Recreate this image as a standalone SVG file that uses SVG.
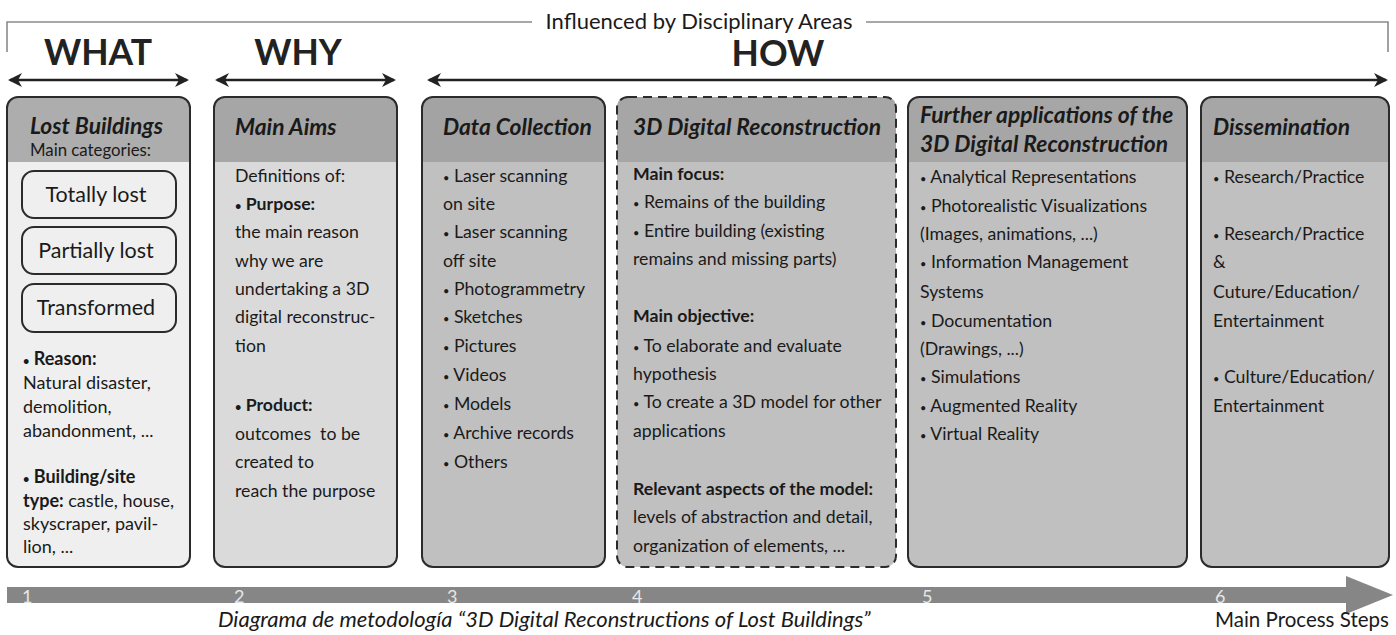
<svg xmlns="http://www.w3.org/2000/svg" width="1396" height="635" viewBox="0 0 1396 635">
<defs>
<style>
text{font-family:Lato,"Open Sans","Liberation Sans",sans-serif;fill:#1a1a1a}
.big{font-size:35.5px;font-weight:bold;fill:#222}
.hd{font-size:22.8px;font-weight:bold;font-style:italic}
.bd{font-size:17.7px}
.sm{font-size:18px}
.b{font-weight:bold}
.bl{font-size:11px}
.frame{fill:none;stroke:#2b2b2b;stroke-width:2}
.dash{fill:none;stroke:#2b2b2b;stroke-width:2;stroke-dasharray:9 6}
.hdr{fill:#a6a6a6}
.arr{stroke:#222;stroke-width:2.5;fill:none}
.num{font-size:18px;fill:#e6e6e6}
.cat{font-size:21.5px}
</style>
<marker id="ah" viewBox="0 0 14 14" refX="12" refY="7" markerWidth="14" markerHeight="14" markerUnits="userSpaceOnUse" orient="auto-start-reverse">
<path d="M0,0 L14,7 L0,14 L4,7 Z" fill="#222"/>
</marker>
</defs>
<rect width="1396" height="635" fill="#fff"/>

<g id="bracket">
<path d="M7,52 V22 H532 M866,22 H1388 V52" fill="none" stroke="#8a8a8a" stroke-width="1.6"/>
<text x="699" y="29" text-anchor="middle" style="font-size:22px">Influenced by Disciplinary Areas</text>
</g>

<g id="titles">
<text class="big" x="98" y="65" text-anchor="middle">WHAT</text>
<text class="big" x="298" y="65" text-anchor="middle">WHY</text>
<text class="big" x="778" y="66" text-anchor="middle">HOW</text>
</g>

<g id="connectors">
<line class="arr" x1="10" y1="80" x2="187" y2="80" marker-start="url(#ah)" marker-end="url(#ah)"/>
<line class="arr" x1="217" y1="80" x2="394" y2="80" marker-start="url(#ah)" marker-end="url(#ah)"/>
<line class="arr" x1="429" y1="80" x2="1386" y2="80" marker-start="url(#ah)" marker-end="url(#ah)"/>
</g>

<g id="box1">
<rect x="7" y="97" width="183" height="470" rx="11" fill="#efefef"/>
<path d="M7,162 V108 Q7,97 18,97 H179 Q190,97 190,108 V162 Z" fill="#adadad"/>
<rect class="frame" x="7" y="97" width="183" height="470" rx="11"/>
<text class="hd" x="30" y="134">Lost Buildings</text>
<text x="30" y="156" style="font-size:16.8px">Main categories:</text>
<rect class="frame" x="22" y="171" width="154" height="47" rx="12" fill="#f2f2f2"/>
<text class="cat" x="96" y="202" text-anchor="middle">Totally lost</text>
<rect class="frame" x="22" y="227" width="154" height="47" rx="12" fill="#f2f2f2"/>
<text class="cat" x="96" y="258" text-anchor="middle">Partially lost</text>
<rect class="frame" x="22" y="284" width="154" height="48" rx="12" fill="#f2f2f2"/>
<text class="cat" x="96" y="315" text-anchor="middle">Transformed</text>
<text class="sm b" x="23" y="365"><tspan class="bl">•</tspan> Reason:</text>
<text class="sm" x="23" y="389">Natural disaster,</text>
<text class="sm" x="23" y="413">demolition,</text>
<text class="sm" x="23" y="437">abandonment, ...</text>
<text class="sm b" x="23" y="483"><tspan class="bl">•</tspan> Building/site</text>
<text class="sm" x="23" y="507"><tspan class="b">type:</tspan> castle, house,</text>
<text class="sm" x="23" y="530">skyscraper, pavil-</text>
<text class="sm" x="23" y="553">lion, ...</text>
</g>

<g id="box2">
<rect x="214" y="97" width="183" height="470" rx="11" fill="#dadada"/>
<path class="hdr" d="M214,162 V108 Q214,97 225,97 H386 Q397,97 397,108 V162 Z"/>
<rect class="frame" x="214" y="97" width="183" height="470" rx="11"/>
<text class="hd" x="235" y="135">Main Aims</text>
<text class="bd" x="235" y="182">Definitions of:</text>
<text class="bd b" x="235" y="210"><tspan class="bl">•</tspan> Purpose:</text>
<text class="bd" x="235" y="238">the main reason</text>
<text class="bd" x="235" y="267">why we are</text>
<text class="bd" x="235" y="295">undertaking a 3D</text>
<text class="bd" x="235" y="323">digital reconstruc-</text>
<text class="bd" x="235" y="352">tion</text>
<text class="bd b" x="235" y="411"><tspan class="bl">•</tspan> Product:</text>
<text class="bd" x="235" y="440" xml:space="preserve">outcomes  to be</text>
<text class="bd" x="235" y="468">created to</text>
<text class="bd" x="235" y="497">reach the purpose</text>
</g>

<g id="box3">
<rect x="422" y="97" width="183" height="470" rx="11" fill="#c0c0c0"/>
<path d="M422,162 V108 Q422,97 433,97 H594 Q605,97 605,108 V162 Z" fill="#a3a3a3"/>
<rect class="frame" x="422" y="97" width="183" height="470" rx="11"/>
<text class="hd" x="443" y="135">Data Collection</text>
<text class="bd" x="443" y="182"><tspan class="bl">•</tspan> Laser scanning</text>
<text class="bd" x="443" y="210">on site</text>
<text class="bd" x="443" y="238"><tspan class="bl">•</tspan> Laser scanning</text>
<text class="bd" x="443" y="267">off site</text>
<text class="bd" x="443" y="295"><tspan class="bl">•</tspan> Photogrammetry</text>
<text class="bd" x="443" y="323"><tspan class="bl">•</tspan> Sketches</text>
<text class="bd" x="443" y="352"><tspan class="bl">•</tspan> Pictures</text>
<text class="bd" x="443" y="381"><tspan class="bl">•</tspan> Videos</text>
<text class="bd" x="443" y="410"><tspan class="bl">•</tspan> Models</text>
<text class="bd" x="443" y="439"><tspan class="bl">•</tspan> Archive records</text>
<text class="bd" x="443" y="468"><tspan class="bl">•</tspan> Others</text>
</g>

<g id="box4">
<rect x="617" y="97" width="279" height="470" rx="11" fill="#c0c0c0"/>
<path class="hdr" d="M617,162 V108 Q617,97 628,97 H885 Q896,97 896,108 V162 Z"/>
<rect class="dash" x="617" y="97" width="279" height="470" rx="11"/>
<text class="hd" x="633" y="135">3D Digital Reconstruction</text>
<text class="bd b" x="633" y="180">Main focus:</text>
<text class="bd" x="633" y="208"><tspan class="bl">•</tspan> Remains of the building</text>
<text class="bd" x="633" y="237"><tspan class="bl">•</tspan> Entire building (existing</text>
<text class="bd" x="633" y="265">remains and missing parts)</text>
<text class="bd b" x="633" y="322">Main objective:</text>
<text class="bd" x="633" y="352"><tspan class="bl">•</tspan> To elaborate and evaluate</text>
<text class="bd" x="633" y="380">hypothesis</text>
<text class="bd" x="633" y="408"><tspan class="bl">•</tspan> To create a 3D model for other</text>
<text class="bd" x="633" y="437">applications</text>
<text class="bd b" x="633" y="495">Relevant aspects of the model:</text>
<text class="bd" x="633" y="523">levels of abstraction and detail,</text>
<text class="bd" x="633" y="552">organization of elements, ...</text>
</g>

<g id="box5">
<rect x="908" y="97" width="279" height="470" rx="11" fill="#c0c0c0"/>
<path class="hdr" d="M908,162 V108 Q908,97 919,97 H1176 Q1187,97 1187,108 V162 Z"/>
<rect class="frame" x="908" y="97" width="279" height="470" rx="11"/>
<text class="hd" x="920" y="123">Further applications of the</text>
<text class="hd" x="920" y="152">3D Digital Reconstruction</text>
<text class="bd" x="920" y="183"><tspan class="bl">•</tspan> Analytical Representations</text>
<text class="bd" x="920" y="212"><tspan class="bl">•</tspan> Photorealistic Visualizations</text>
<text class="bd" x="920" y="240">(Images, animations, ...)</text>
<text class="bd" x="920" y="268"><tspan class="bl">•</tspan> Information Management</text>
<text class="bd" x="920" y="298">Systems</text>
<text class="bd" x="920" y="327"><tspan class="bl">•</tspan> Documentation</text>
<text class="bd" x="920" y="355">(Drawings, ...)</text>
<text class="bd" x="920" y="383"><tspan class="bl">•</tspan> Simulations</text>
<text class="bd" x="920" y="412"><tspan class="bl">•</tspan> Augmented Reality</text>
<text class="bd" x="920" y="440"><tspan class="bl">•</tspan> Virtual Reality</text>
</g>

<g id="box6">
<rect x="1201" y="97" width="188" height="470" rx="11" fill="#c0c0c0"/>
<path class="hdr" d="M1201,162 V108 Q1201,97 1212,97 H1378 Q1389,97 1389,108 V162 Z"/>
<rect class="frame" x="1201" y="97" width="188" height="470" rx="11"/>
<text class="hd" x="1213" y="135">Dissemination</text>
<text class="bd" x="1213" y="183"><tspan class="bl">•</tspan> Research/Practice</text>
<text class="bd" x="1213" y="240"><tspan class="bl">•</tspan> Research/Practice</text>
<text class="bd" x="1213" y="268">&amp;</text>
<text class="bd" x="1213" y="298">Cuture/Education/</text>
<text class="bd" x="1213" y="327">Entertainment</text>
<text class="bd" x="1213" y="383"><tspan class="bl">•</tspan> Culture/Education/</text>
<text class="bd" x="1213" y="412">Entertainment</text>
</g>

<g id="steps">
<rect x="7" y="587" width="1343" height="16" fill="#868686"/>
<path d="M1346,576 L1393,595 L1346,614 Z" fill="#868686"/>
<text class="num" x="22" y="603">1</text>
<text class="num" x="234" y="603">2</text>
<text class="num" x="447" y="603">3</text>
<text class="num" x="632" y="603">4</text>
<text class="num" x="922" y="603">5</text>
<text class="num" x="1215" y="603">6</text>
<text x="218" y="627" style="font-size:22px;font-style:italic">Diagrama de metodología “3D Digital Reconstructions of Lost Buildings”</text>
<text x="1215" y="627" style="font-size:20.5px">Main Process Steps</text>
</g>
</svg>
